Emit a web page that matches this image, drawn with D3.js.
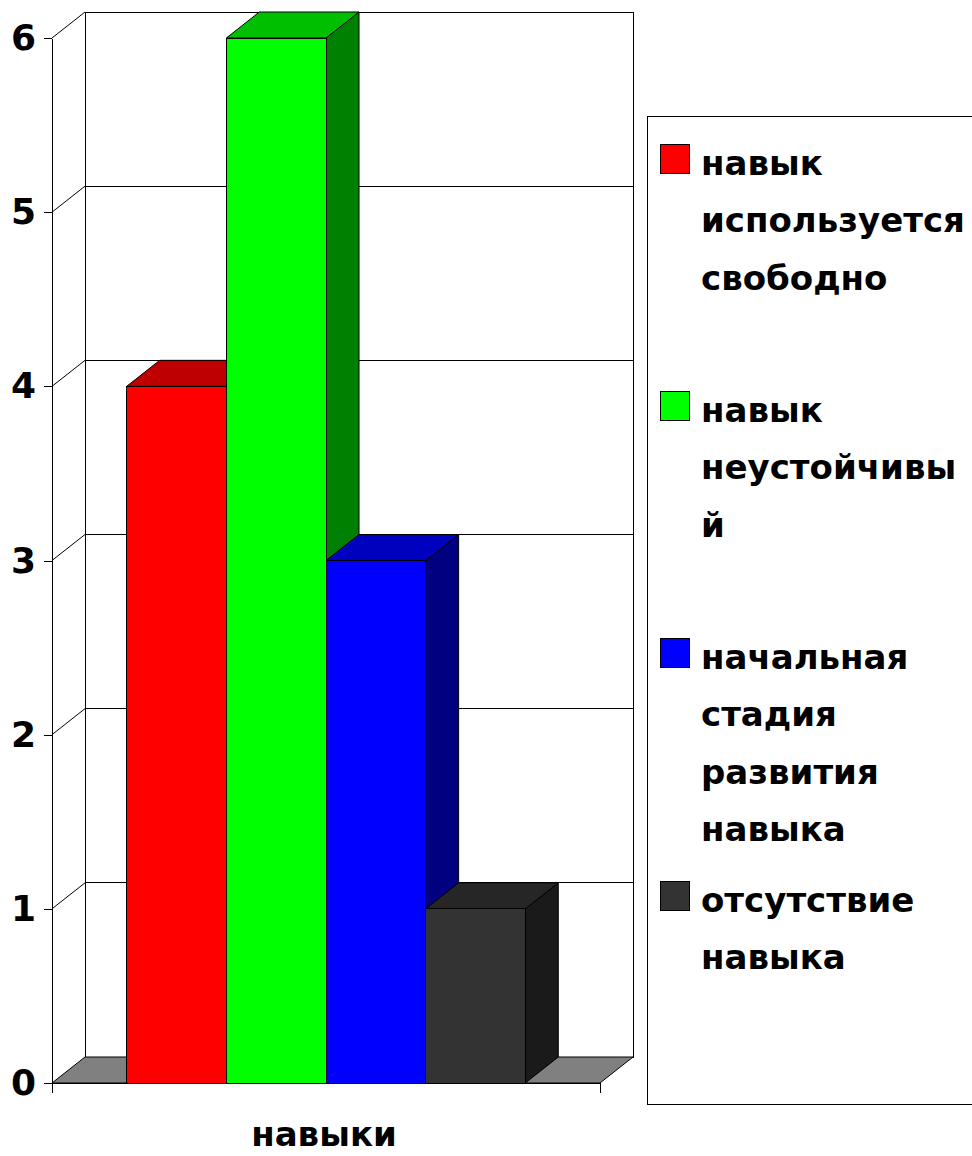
<!DOCTYPE html>
<html>
<head>
<meta charset="utf-8">
<script src="https://cdn.jsdelivr.net/npm/d3@7"></script>
<style>
  html, body { margin: 0; padding: 0; background: #fff; }
  text { font-family: "Comic Sans MS", "DejaVu Sans", sans-serif; font-weight: bold; }
  line, path, rect { shape-rendering: crispEdges; }
  path.diag { shape-rendering: auto; }
</style>
</head>
<body>
<div id="chart"></div>
<script>
// данные
var categories = ["навыки"];
var seriesNames = ["навык используется свободно", "навык неустойчивый", "начальная стадия развития навыка", "отсутствие навыка"];
var legendLines = [
    ["навык", "используется", "свободно"],
    ["навык", "неустойчивы", "й"],
    ["начальная", "стадия", "развития", "навыка"],
    ["отсутствие", "навыка"]
];
var values = [4, 6, 3, 1];
var colors = ["#ff0000", "#00ff00", "#0000ff", "#333333"];
var yTicks = [0, 1, 2, 3, 4, 5, 6];

var W = 972, H = 1156,
    pLeft = 52, pRight = 600,   // передняя плоскость
    pBottom = 1083, pTop = 38,
    dx = 33, dy = -26;          // глубина

var svg = d3.select('#chart').append('svg')
    .attr('width', W)
    .attr('height', H);

var y = d3.scaleLinear().domain([0, 6]).range([pBottom, pTop]);
var x0 = d3.scaleBand().domain(categories).range([pLeft, pRight]);
var x1 = d3.scaleBand().domain(seriesNames)
    .range([0, x0.bandwidth()])
    .paddingOuter(0.75);

function shade(c, k) {
    var r = d3.rgb(c);
    return d3.rgb(r.r * k, r.g * k, r.b * k).formatHex();
}
function poly(pts) {
    return 'M' + pts.map(function (p) { return p.join(','); }).join('L') + 'Z';
}

// задняя стенка
svg.append('path')
    .attr('d', poly([[pLeft + dx, pTop + dy], [pRight + dx, pTop + dy], [pRight + dx, pBottom + dy], [pLeft + dx, pBottom + dy]]))
    .attr('fill', '#fff').attr('stroke', '#000').attr('stroke-width', 1);

// линии сетки (левая стенка + задняя)
yTicks.filter(function (t) { return t > 0; }).forEach(function (t) {
    var yy = y(t);
    svg.append('path').attr('class', 'diag')
        .attr('d', 'M' + pLeft + ',' + yy + 'L' + (pLeft + dx) + ',' + (yy + dy))
        .attr('fill', 'none').attr('stroke', '#000').attr('stroke-width', 1);
    svg.append('line')
        .attr('x1', pLeft + dx).attr('x2', pRight + dx)
        .attr('y1', yy + dy).attr('y2', yy + dy)
        .attr('stroke', '#000');
});
svg.append('line')
    .attr('x1', pLeft + dx).attr('x2', pLeft + dx)
    .attr('y1', pTop + dy).attr('y2', pBottom + dy)
    .attr('stroke', '#000');

// пол
svg.append('path').attr('class', 'diag')
    .attr('d', poly([[pLeft, pBottom], [pRight, pBottom], [pRight + dx, pBottom + dy], [pLeft + dx, pBottom + dy]]))
    .attr('fill', '#808080').attr('stroke', '#000').attr('stroke-width', 1);

// столбики
values.forEach(function (v, i) {
    var xa = x0(categories[0]) + x1(seriesNames[i]),
        xb = xa + x1.bandwidth(),
        yt = y(v), yb = y(0),
        c = colors[i];
    // бок
    svg.append('path').attr('class', 'diag')
        .attr('d', poly([[xb, yb], [xb + dx, yb + dy], [xb + dx, yt + dy], [xb, yt]]))
        .attr('fill', shade(c, 0.5)).attr('stroke', '#000').attr('stroke-width', 1);
    // верх
    svg.append('path').attr('class', 'diag')
        .attr('d', poly([[xa, yt], [xb, yt], [xb + dx, yt + dy], [xa + dx, yt + dy]]))
        .attr('fill', shade(c, 0.75)).attr('stroke', '#000').attr('stroke-width', 1);
    // фасад
    svg.append('rect')
        .attr('x', xa).attr('y', yt)
        .attr('width', xb - xa).attr('height', yb - yt)
        .attr('fill', c).attr('stroke', '#000').attr('stroke-width', 1);
});

// ось Y
var yAxis = d3.axisLeft(y).tickValues(yTicks).tickFormat(d3.format('d'))
    .tickSize(8).tickSizeOuter(0).tickPadding(8);
var gy = svg.append('g')
    .attr('transform', 'translate(' + pLeft + ',0)')
    .call(yAxis);
gy.attr('font-family', null).attr('font-size', null);
gy.selectAll('text').style('font-size', '36px').attr('fill', '#000');
gy.selectAll('line, path').attr('stroke', '#000');

// ось X
svg.append('line')
    .attr('x1', pLeft).attr('x2', pRight)
    .attr('y1', pBottom).attr('y2', pBottom)
    .attr('stroke', '#000');
[pLeft, pRight].forEach(function (xx) {
    svg.append('line')
        .attr('x1', xx).attr('x2', xx)
        .attr('y1', pBottom).attr('y2', pBottom + 10)
        .attr('stroke', '#000');
});
svg.append('text')
    .attr('x', x0(categories[0]) + x0.bandwidth() / 2 - 2)
    .attr('y', 1146)
    .attr('text-anchor', 'middle')
    .style('font-size', '34px')
    .text(categories[0]);

// легенда
var legX = 647, legY = 116;
svg.append('rect')
    .attr('x', legX).attr('y', legY)
    .attr('width', 400).attr('height', 988)
    .attr('fill', '#fff').attr('stroke', '#000');

var lineH = 57.5;
var itemTop = [163, 410, 657, 900];
legendLines.forEach(function (lines, i) {
    var g = svg.append('g');
    g.append('rect')
        .attr('x', 660).attr('y', itemTop[i] - 19)
        .attr('width', 29).attr('height', 29)
        .attr('fill', colors[i]).attr('stroke', '#000');
    lines.forEach(function (s, j) {
        g.append('text')
            .attr('x', 701)
            .attr('y', itemTop[i] + j * lineH)
            .attr('dy', '0.35em')
            .style('font-size', '34px')
            .text(s);
    });
});
</script>
</body>
</html>
